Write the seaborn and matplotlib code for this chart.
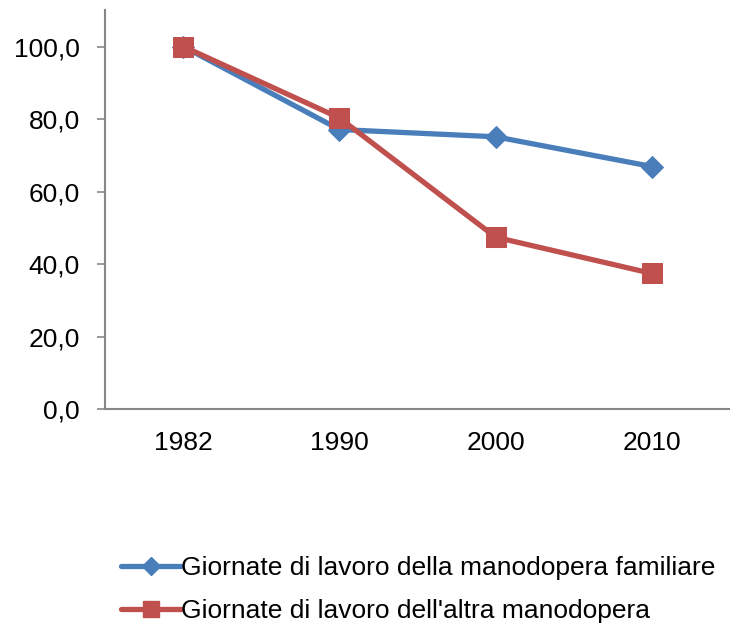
"""Giornate di lavoro: manodopera familiare vs altra manodopera (indice 1982 = 100)."""
import matplotlib
matplotlib.use("Agg")
import matplotlib.pyplot as plt
from matplotlib.lines import Line2D
import numpy as np
import pandas as pd
import seaborn as sns

years = ["1982", "1990", "2000", "2010"]
familiare = [100.0, 77.1, 75.1, 66.9]
altra = [100.0, 80.3, 47.4, 37.4]
label_fam = "Giornate di lavoro della manodopera familiare"
label_altra = "Giornate di lavoro dell'altra manodopera"

BLUE = "#4A7EBB"
RED = "#C0504D"
AXIS = "#868686"

df = pd.DataFrame({
    "x": np.tile(np.arange(len(years)), 2),
    "valore": familiare + altra,
    "serie": [label_fam] * len(years) + [label_altra] * len(years),
})

sns.set_theme(style="white")
plt.rcParams["font.family"] = ["Liberation Sans", "DejaVu Sans"]
plt.rcParams["text.color"] = "black"

fig = plt.figure(figsize=(7.3, 6.26), dpi=100)
ax = fig.add_axes([0.144, 0.3466, 0.856, 0.637])

styles = [(label_fam, BLUE, "D", 11), (label_altra, RED, "s", 15)]
for label, color, marker, ms in styles:
    sns.lineplot(
        data=df[df["serie"] == label], x="x", y="valore", ax=ax,
        color=color, linewidth=3.8, legend=False,
    )
    line = ax.lines[-1]
    line.set_marker(marker)
    line.set_markersize(ms)
    line.set_markerfacecolor(color)
    line.set_markeredgecolor(color)

ax.set_xlim(-0.5, 3.48)
ax.set_ylim(0, 110)
ax.set_yticks(np.arange(0, 101, 20))
ax.set_yticklabels([f"{v:.1f}".replace(".", ",") for v in np.arange(0, 101, 20)])
ax.set_xticks(range(len(years)))
ax.set_xticklabels(years)
ax.set_xticks(np.arange(-0.5, 3.6, 1.0), minor=True)
ax.tick_params(axis="x", which="major", length=0, pad=16, labelsize=19, colors="black")
ax.tick_params(axis="x", which="minor", length=6, width=1.2, color=AXIS, direction="out")
ax.tick_params(axis="y", length=6, width=1.2, color=AXIS, direction="out", pad=12,
               labelsize=19, labelcolor="black", left=True)
ax.set_xlabel("")
ax.set_ylabel("")

for side in ["top", "right"]:
    ax.spines[side].set_visible(False)
for side in ["left", "bottom"]:
    ax.spines[side].set_color(AXIS)
    ax.spines[side].set_linewidth(1.5)

handles = [
    Line2D([], [], color=color, linewidth=3.8, marker=marker, markersize=ms * 0.8,
           markerfacecolor=color, markeredgecolor=color)
    for _, color, marker, ms in styles
]
leg = fig.legend(
    handles, [s[0] for s in styles], loc="upper left", bbox_to_anchor=(0.151, 0.128),
    frameon=False, fontsize=19, handlelength=2.3, handletextpad=0.0,
    labelspacing=0.7, borderaxespad=0,
)
for t in leg.get_texts():
    t.set_color("black")

fig.savefig("out.png", dpi=100, facecolor="white")
